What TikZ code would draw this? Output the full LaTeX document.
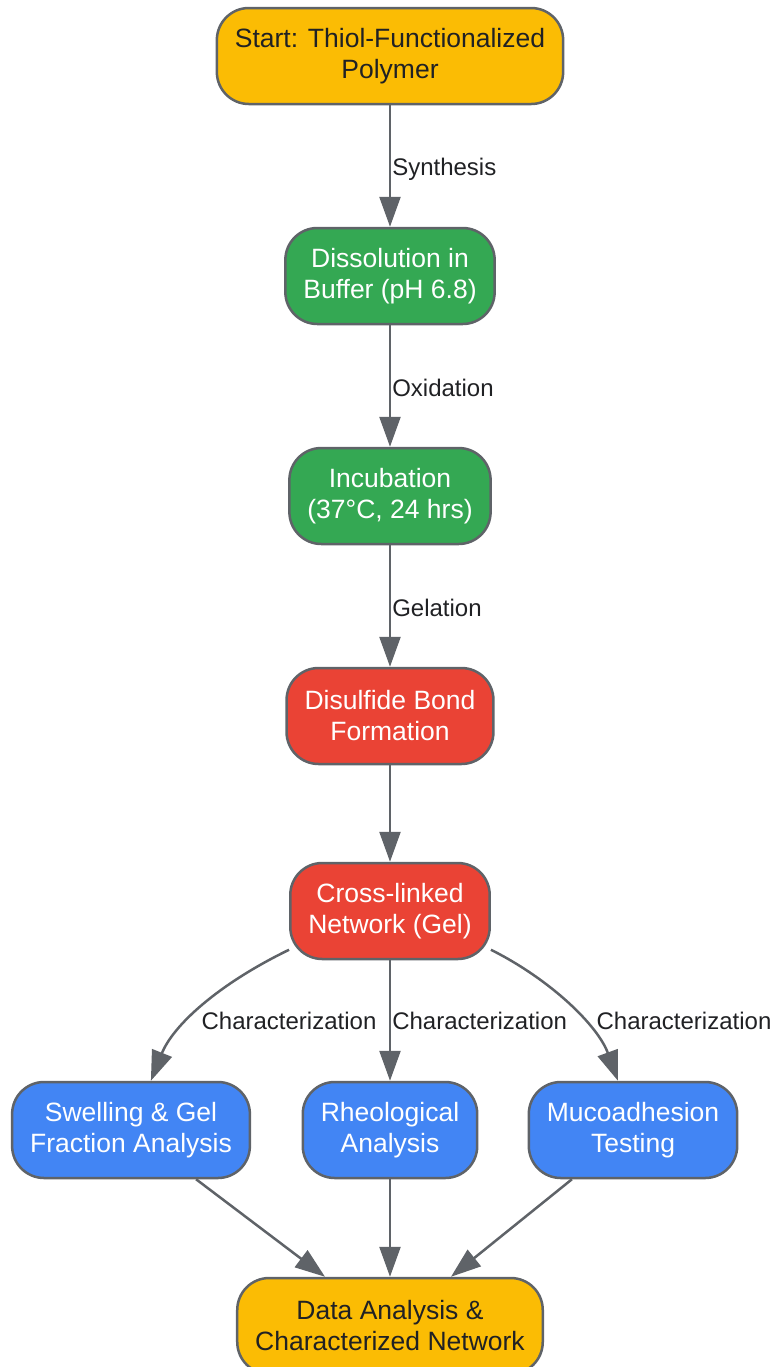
\documentclass[tikz,border=0pt]{standalone}
\usepackage{fontspec}
\setmainfont{Liberation Sans}
\usetikzlibrary{arrows.meta}
\definecolor{node_yellow}{HTML}{FBBC04}
\definecolor{node_green}{HTML}{34A853}
\definecolor{node_red}{HTML}{EA4335}
\definecolor{node_blue}{HTML}{4285F4}
\definecolor{edge_gray}{HTML}{5F6368}
\definecolor{text_dark}{HTML}{202124}

\begin{document}
\begin{tikzpicture}[x=0.5pt, y=-0.5pt,
    box/.style={draw=edge_gray, line width=1.25pt, rounded corners=16pt, minimum height=48pt,
        inner xsep=9pt, align=center, font=\fontsize{13.25}{15.5}\selectfont},
    yellowbox/.style={box, fill=node_yellow, text=text_dark},
    greenbox/.style={box, fill=node_green, text=white},
    redbox/.style={box, fill=node_red, text=white},
    bluebox/.style={box, fill=node_blue, text=white},
    flow/.style={draw=edge_gray, line width=1.25pt, -{Triangle[length=15pt,width=10.5pt]}},
    elabel/.style={text=text_dark, inner sep=0.5pt, font=\fontsize{12}{14}\selectfont}]
                \useasboundingbox (0,0) rectangle (773,1367);
                \node[yellowbox] (start) at (390,56) {Start: Thiol-Functionalized\\Polymer};
                \node[greenbox] (dissolve) at (390,276) {Dissolution in\\Buffer (pH 6.8)};
                \node[greenbox] (incubate) at (390,496) {Incubation\\(37°C, 24 hrs)};
                \node[redbox] (disulfide) at (390,716) {Disulfide Bond\\Formation};
                \node[redbox] (network) at (390,911) {Cross-linked\\Network (Gel)};
                \node[bluebox] (swell) at (131,1130) {Swelling \& Gel\\Fraction Analysis};
                \node[bluebox] (rheo) at (390,1130) {Rheological\\Analysis};
                \node[bluebox] (muco) at (633,1130) {Mucoadhesion\\Testing};
                \node[yellowbox] (data) at (390,1326) {Data Analysis \&\\Characterized Network};

                \draw[flow] (start) -- node[elabel, midway, right, yshift=-1.5pt] {Synthesis} (dissolve);
                \draw[flow] (dissolve) -- node[elabel, midway, right, yshift=-1pt] {Oxidation} (incubate);
                \draw[flow] (incubate) -- node[elabel, midway, right, yshift=-1pt] {Gelation} (disulfide);
                \draw[flow] (disulfide) -- (network);
                \draw[flow] (network.201) .. controls +(-72,35) and +(22,-55) .. (swell.68);
                \draw[flow] (network) -- node[elabel, midway, right] {Characterization} (rheo);
                \draw[flow] (network.339) .. controls +(60,30) and +(-20,-55) .. (muco.107);
                \node[elabel] (lblswell) at (289,1021) {Characterization};
                \node[elabel] (lblmuco) at (684,1021) {Characterization};
                \draw[flow] (swell) -- (data);
                \draw[flow] (rheo) -- (data);
                \draw[flow] (muco) -- (data);

            \end{tikzpicture}
\end{document}
